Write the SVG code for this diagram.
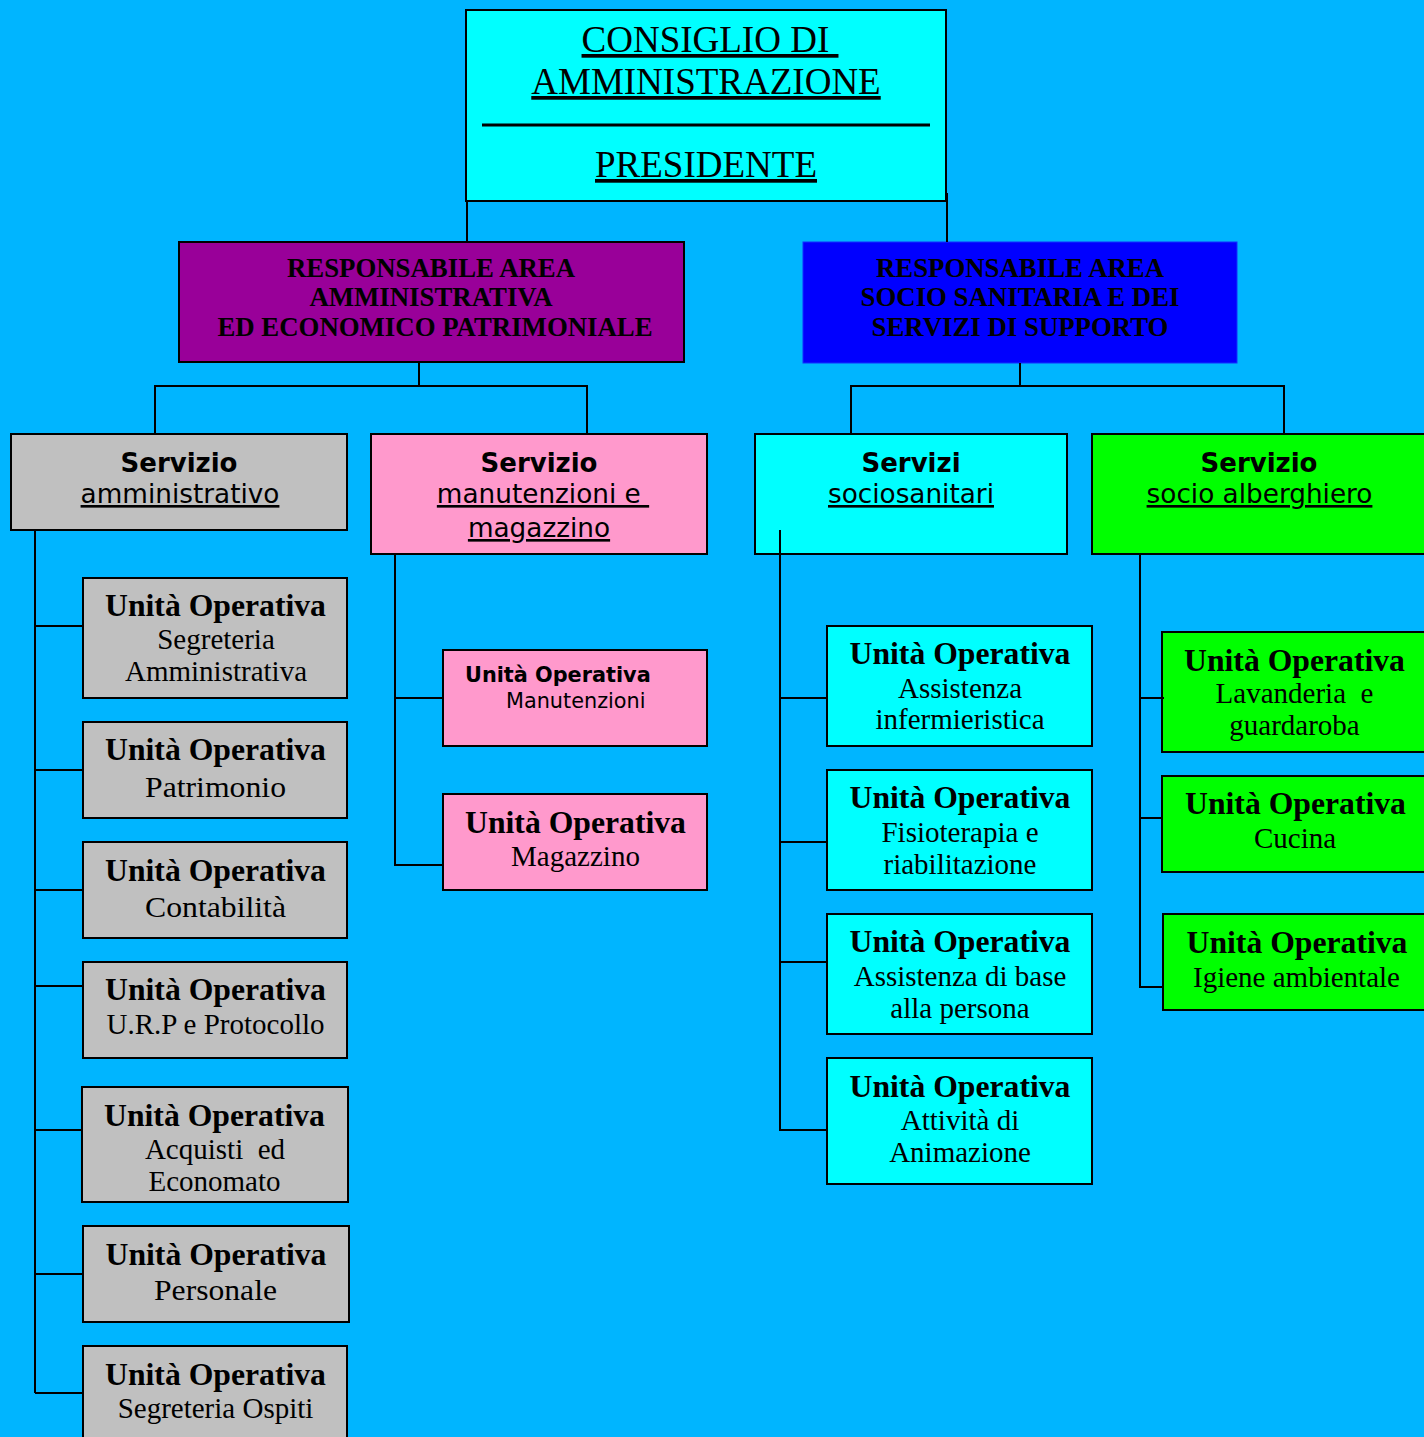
<svg xmlns="http://www.w3.org/2000/svg" width="1424" height="1437" viewBox="0 0 1424 1437">
<style>
.bx{stroke:#000;stroke-width:2}
.gray{fill:#C0C0C0}.pink{fill:#FF99CC}.cyan{fill:#00FFFF}.green{fill:#00FF00}
.h{font-family:"Liberation Serif","Times New Roman",serif;font-weight:bold;font-size:31.7px;fill:#000;text-anchor:middle}
.s{font-family:"Liberation Serif","Times New Roman",serif;font-size:29px;fill:#000;text-anchor:middle}
.top{font-family:"Liberation Serif","Times New Roman",serif;font-size:37px;fill:#000;text-anchor:middle;text-decoration:underline}
.area{font-family:"Liberation Serif","Times New Roman",serif;font-weight:bold;font-size:26.8px;fill:#000;text-anchor:middle}
.sv{font-family:"DejaVu Sans",Verdana,sans-serif;font-weight:bold;font-size:26px;fill:#000;text-anchor:middle}
.su{font-family:"DejaVu Sans",Verdana,sans-serif;font-size:26.3px;fill:#000;text-anchor:middle;text-decoration:underline}
.ssb{font-family:"DejaVu Sans",Verdana,sans-serif;font-weight:bold;font-size:20.8px;fill:#000}
.ssr{font-family:"DejaVu Sans",Verdana,sans-serif;font-size:20.8px;fill:#000}
.con{fill:none;stroke:#000;stroke-width:2}
</style>
<rect x="0" y="0" width="1424" height="1437" fill="#00B5FF"/>

<g id="consiglio">
<rect x="466" y="10" width="480" height="191" class="bx cyan"/>
<text x="710" y="52" class="top">CONSIGLIO DI&#160;</text>
<text x="706" y="94" class="top">AMMINISTRAZIONE</text>
<line x1="482" y1="125" x2="930" y2="125" stroke="#000" stroke-width="3"/>
<text x="706" y="177" class="top">PRESIDENTE</text>
</g>

<g id="area-amministrativa">
<rect x="179" y="242" width="505" height="120" class="bx" fill="#990099"/>
<text x="431" y="277" class="area">RESPONSABILE AREA</text>
<text x="431" y="306" class="area">AMMINISTRATIVA</text>
<text x="435" y="336" class="area">ED ECONOMICO PATRIMONIALE</text>
</g>

<g id="area-sociosanitaria">
<rect x="803" y="242" width="434" height="121" fill="#0000FF" stroke="#1030FF" stroke-width="1"/>
<text x="1020" y="277" class="area">RESPONSABILE AREA</text>
<text x="1020" y="306" class="area">SOCIO SANITARIA E DEI</text>
<text x="1020" y="336" class="area">SERVIZI DI SUPPORTO</text>
</g>

<g id="servizio-amministrativo">
<rect x="11" y="434" width="336" height="96" class="bx gray"/>
<text x="179" y="472" class="sv">Servizio</text>
<text x="180" y="503" class="su">amministrativo</text>
</g>

<g id="servizio-manutenzioni">
<rect x="371" y="434" width="336" height="120" class="bx pink"/>
<text x="539" y="472" class="sv">Servizio</text>
<text x="543" y="503" class="su">manutenzioni e&#160;</text>
<text x="539" y="537" class="su">magazzino</text>
</g>

<g id="servizi-sociosanitari">
<rect x="755" y="434" width="312" height="120" class="bx cyan"/>
<text x="911" y="472" class="sv">Servizi</text>
<text x="911" y="503" class="su">sociosanitari</text>
</g>

<g id="servizio-alberghiero">
<rect x="1092" y="434" width="340" height="120" class="bx green"/>
<text x="1259" y="472" class="sv">Servizio</text>
<text x="1259.5" y="503" class="su">socio alberghiero</text>
</g>

<g id="uo-segreteria-amministrativa">
<rect x="83" y="578" width="264" height="120" class="bx gray"/>
<text x="215.5" y="616" class="h">Unità Operativa</text>
<text x="216" y="649" class="s">Segreteria</text>
<text x="216" y="681" class="s">Amministrativa</text>
</g>
<g id="uo-patrimonio">
<rect x="83" y="722" width="264" height="96" class="bx gray"/>
<text x="215.5" y="760" class="h">Unità Operativa</text>
<text x="215.5" y="797" class="s" textLength="141" lengthAdjust="spacingAndGlyphs">Patrimonio</text>
</g>
<g id="uo-contabilita">
<rect x="83" y="842" width="264" height="96" class="bx gray"/>
<text x="215.5" y="881" class="h">Unità Operativa</text>
<text x="215.5" y="917" class="s" textLength="141" lengthAdjust="spacingAndGlyphs">Contabilità</text>
</g>
<g id="uo-urp">
<rect x="83" y="962" width="264" height="96" class="bx gray"/>
<text x="215.5" y="1000" class="h">Unità Operativa</text>
<text x="215.5" y="1034" class="s">U.R.P e Protocollo</text>
</g>
<g id="uo-acquisti">
<rect x="82" y="1087" width="266" height="115" class="bx gray"/>
<text x="214.5" y="1126" class="h">Unità Operativa</text>
<text x="215" y="1159" class="s">Acquisti&#160; ed</text>
<text x="214.5" y="1191" class="s">Economato</text>
</g>
<g id="uo-personale">
<rect x="83" y="1226" width="266" height="96" class="bx gray"/>
<text x="216" y="1265" class="h">Unità Operativa</text>
<text x="215.5" y="1300" class="s" textLength="123" lengthAdjust="spacingAndGlyphs">Personale</text>
</g>
<g id="uo-segreteria-ospiti">
<rect x="83" y="1346" width="264" height="100" class="bx gray"/>
<text x="215.5" y="1385" class="h">Unità Operativa</text>
<text x="215.5" y="1418" class="s">Segreteria Ospiti</text>
</g>

<g id="uo-manutenzioni">
<rect x="443" y="650" width="264" height="96" class="bx pink"/>
<text x="465" y="682" class="ssb">Unità Operativa</text>
<text x="506" y="708" class="ssr">Manutenzioni</text>
</g>
<g id="uo-magazzino">
<rect x="443" y="794" width="264" height="96" class="bx pink"/>
<text x="575.5" y="833" class="h">Unità Operativa</text>
<text x="575.5" y="866" class="s">Magazzino</text>
</g>

<g id="uo-infermieristica">
<rect x="827" y="626" width="265" height="120" class="bx cyan"/>
<text x="960" y="664" class="h">Unità Operativa</text>
<text x="960" y="698" class="s">Assistenza</text>
<text x="960" y="729" class="s">infermieristica</text>
</g>
<g id="uo-fisioterapia">
<rect x="827" y="770" width="265" height="120" class="bx cyan"/>
<text x="960" y="808" class="h">Unità Operativa</text>
<text x="960" y="842" class="s">Fisioterapia e</text>
<text x="960" y="874" class="s">riabilitazione</text>
</g>
<g id="uo-assistenza-base">
<rect x="827" y="914" width="265" height="120" class="bx cyan"/>
<text x="960" y="952" class="h">Unità Operativa</text>
<text x="960" y="986" class="s">Assistenza di base</text>
<text x="960" y="1018" class="s">alla persona</text>
</g>
<g id="uo-animazione">
<rect x="827" y="1058" width="265" height="126" class="bx cyan"/>
<text x="960" y="1097" class="h">Unità Operativa</text>
<text x="960" y="1130" class="s">Attività di</text>
<text x="960" y="1162" class="s">Animazione</text>
</g>

<g id="uo-lavanderia">
<rect x="1162" y="632" width="270" height="120" class="bx green"/>
<text x="1294.5" y="671" class="h">Unità Operativa</text>
<text x="1294.5" y="703" class="s">Lavanderia&#160; e</text>
<text x="1294.5" y="735" class="s">guardaroba</text>
</g>
<g id="uo-cucina">
<rect x="1162" y="776" width="270" height="96" class="bx green"/>
<text x="1295.5" y="814" class="h">Unità Operativa</text>
<text x="1295" y="848" class="s">Cucina</text>
</g>
<g id="uo-igiene">
<rect x="1163" y="914" width="270" height="96" class="bx green"/>
<text x="1297" y="953" class="h">Unità Operativa</text>
<text x="1296.5" y="987" class="s">Igiene ambientale</text>
</g>

<g id="connectors" class="con">
<path d="M467,201 V242 M947,193 V242"/>
<path d="M419,362 V386 M155,434 V386 H587 V434"/>
<path d="M1020,363 V386 M851,434 V386 H1284 V434"/>
<path d="M35,530 V1393 M35,626 H83 M35,770 H83 M35,890 H83 M35,986 H83 M35,1130 H82 M35,1274 H83 M35,1393 H83"/>
<path d="M395,554 V865 H443 M395,698 H443"/>
<path d="M780,530 V1130 H827 M780,698 H827 M780,842 H827 M780,962 H827"/>
<path d="M1140,554 V987 H1163 M1140,698 H1164 M1140,818 H1162"/>
</g>
</svg>
